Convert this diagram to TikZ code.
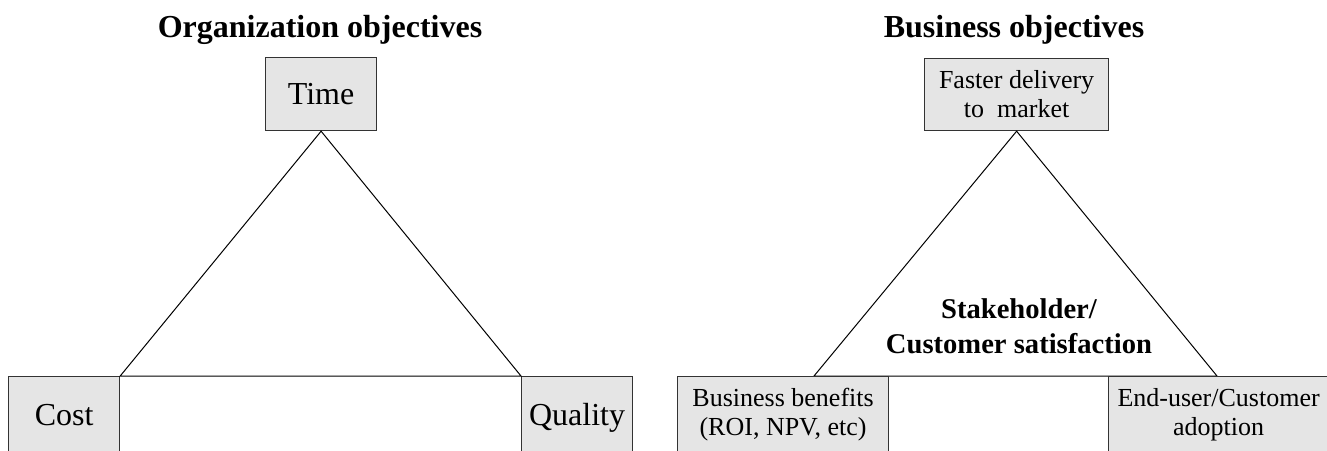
\documentclass[tikz,border=0pt]{standalone}
\usepackage{fontspec}
\setmainfont{Liberation Serif}
\usepackage{tikz}
\usetikzlibrary{positioning}

\begin{document}
\begin{tikzpicture}[x=0.5pt, y=-0.5pt,
  box/.style={rectangle, draw=black!80, fill=black!10, line width=0.6pt, inner sep=0pt, anchor=north west},
  big/.style={box, font=\fontsize{16}{19}\selectfont, text depth=0pt},
  small/.style={box, align=center, font=\fontsize{13}{14.5}\selectfont},
  title/.style={font=\bfseries\fontsize{16}{19}\selectfont, anchor=base},
  side/.style={line width=0.5pt, black}
]
\clip (0,0) rectangle (1327,450);

% Organization objectives
\node[title] (orgtitle) at (320,37) {Organization objectives};
\node[big, minimum width=55.5pt, minimum height=36.5pt] (time) at (265,57) {Time};
\node[big, minimum width=55.5pt, minimum height=38pt] (cost) at (8,376) {Cost};
\node[big, minimum width=55.5pt, minimum height=38pt] (quality) at (521,376) {Quality};
\draw[side] (cost.north east) -- (time.south) -- (quality.north west) -- cycle;

% Business objectives
\node[title] (bustitle) at (1014,37) {Business objectives};
\node[small, minimum width=92pt, minimum height=36pt] (faster) at (924,58) {Faster delivery\\to~~market};
\coordinate (bleft) at (814,376);
\coordinate (bright) at (1217,376);
\draw[side] (bleft) -- (faster.south) -- (bright) -- cycle;
\node[small, minimum width=105.5pt, minimum height=38pt] (benefits) at (677,376) {Business benefits\\(ROI, NPV, etc)};
\node[small, minimum width=110pt, minimum height=38pt] (adoption) at (1108,376) {End-user/Customer\\adoption};
\node[align=center, font=\bfseries\fontsize{14.3}{17.5}\selectfont] (stake) at (1019,326) {Stakeholder/\\Customer satisfaction};
\end{tikzpicture}
\end{document}
